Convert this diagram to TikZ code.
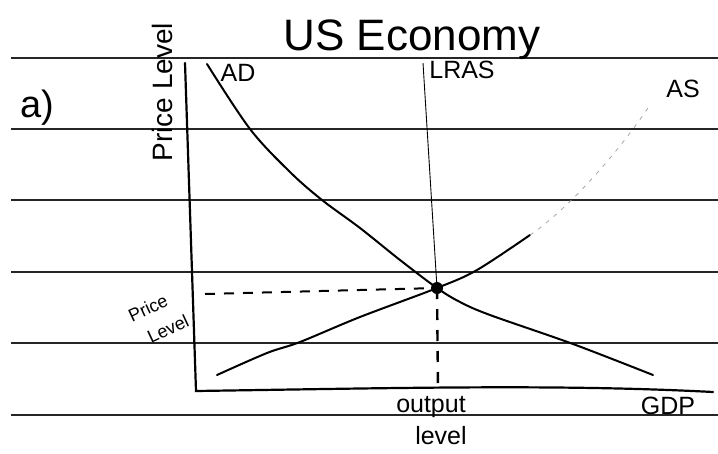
\documentclass[tikz,border=0pt]{standalone}
\usepackage{fontspec}
\setmainfont{Liberation Sans}
\begin{document}
\begin{tikzpicture}[x=1pt,y=-1pt,
  rule/.style={line width=1.8pt, black!85},
  axis/.style={line width=2.2pt, line cap=round},
  curve/.style={line width=2pt, line cap=round, line join=round},
  guide/.style={line width=2pt, dash pattern=on 10pt off 9pt},
  lbl/.style={inner sep=0pt, font=\fontsize{25}{27}\selectfont},
  small/.style={inner sep=0pt, rotate=25, font=\fontsize{18}{19}\selectfont}]
\useasboundingbox (0,0) rectangle (718,453);
% ruled paper
\foreach \yy in {58,129,200,272,343,415} \draw[rule] (11,\yy) -- (718,\yy);
% axes
\coordinate (ytop) at (185,63);
\coordinate (org) at (196,391);
\coordinate (xend) at (713,392);
\draw[axis] (ytop) -- (org) .. controls (400,388) and (560,384) .. (xend);
% LRAS
\coordinate (lrastop) at (423,63);
\coordinate (eq) at (437,288);
\coordinate (eqfoot) at (438,391);
\draw[line width=0.9pt] (lrastop) -- (eq);
\draw[line width=2.4pt, dash pattern=on 11pt off 10pt] (eq) -- (eqfoot);
% dashed price line
\coordinate (pstart) at (205,294);
\draw[guide] (pstart) -- (eq);
% AD
\draw[curve] plot[smooth, tension=0.55] coordinates {(207,64) (250,129) (290,172) (322,200) (360,228) (400,260) (437,288) (460,302) (490,315) (573,344) (653,375)};
% AS
\draw[curve] plot[smooth, tension=0.55] coordinates {(217,375) (267,353) (300,342) (360,317) (437,288) (477,270) (530,235)};
\draw[black!35, line width=0.8pt, dash pattern=on 4pt off 6pt] (530,235) .. controls (570,208) and (620,150) .. (650,105);
% equilibrium
\fill (eq) circle (6pt);
% labels
\node[inner sep=0pt, font=\fontsize{44}{46}\selectfont] (title) at (412,40) {US Economy};
\node[inner sep=0pt, font=\fontsize{38}{40}\selectfont] (parta) at (37,108) {a)};
\node[inner sep=0pt, rotate=90, font=\fontsize{28}{30}\selectfont] (ylab) at (162,92) {Price Level};
\node[lbl] (adl) at (238,73) {AD};
\node[lbl] (lrasl) at (462,70) {LRAS};
\node[lbl] (asl) at (683,89) {AS};
\node[small] (plev1) at (148,308) {Price};
\node[small] (plev2) at (168,329) {Level};
\node[lbl] (outl) at (431,407) {output};
\node[lbl] (levl) at (441,436) {level};
\node[lbl] (gdpl) at (668,406) {GDP};
\end{tikzpicture}
\end{document}
